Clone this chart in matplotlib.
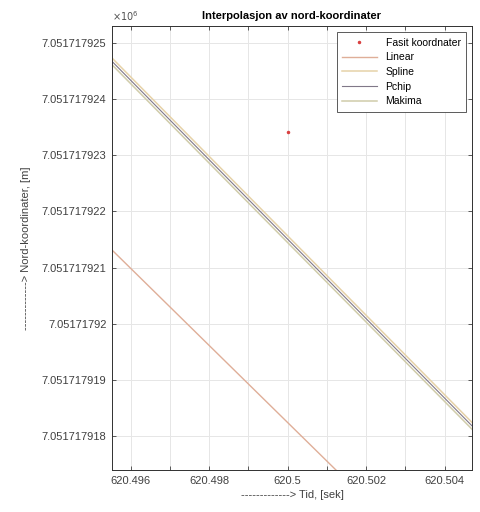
import matplotlib.pyplot as plt
from matplotlib.ticker import MultipleLocator, FuncFormatter

plt.rcParams['font.family'] = ['Liberation Sans', 'DejaVu Sans']

# Data (north coordinate in metres)
base = 7051717.9
t_line = [620.495, 620.505]
linear = [base + 0.02167, base + 0.01481]
spline = [base + 0.02510, base + 0.01803]
pchip = [base + 0.02504, base + 0.01797]
makima = [base + 0.02498, base + 0.01791]
fasit_t = [620.5]
fasit_n = [base + 0.023416]

fig = plt.figure(figsize=(4.8, 5.12), dpi=100)
ax = fig.add_axes([0.2333, 0.082, 0.75, 0.867])

ax.plot(fasit_t, fasit_n, '.', color='#d94040', markersize=3, label='Fasit koordnater')
ax.plot(t_line, linear, color='#dfae98', lw=1.0, label='Linear')
ax.plot(t_line, spline, color='#e6d2a8', lw=1.1, label='Spline')
ax.plot(t_line, pchip, color='#807888', lw=0.8, label='Pchip')
ax.plot(t_line, makima, color='#d0ccaa', lw=1.1, label='Makima')

ax.set_xlim(620.49552, 620.50470)
ax.set_ylim(base + 0.017395, base + 0.025300)

ax.xaxis.set_major_locator(MultipleLocator(0.001))
ax.yaxis.set_major_locator(MultipleLocator(0.001))


def xfmt(v, pos):
    # label every other tick, as in the reference
    if round(v * 1000) % 2:
        return ''
    return '%.7g' % v


ax.xaxis.set_major_formatter(FuncFormatter(xfmt))
ax.yaxis.set_major_formatter(FuncFormatter(lambda v, pos: '%.10g' % (v / 1e6)))

ax.tick_params(direction='in', length=3, labelsize=8, colors='#404040',
               top=True, right=True, width=0.6, pad=4)
for s in ax.spines.values():
    s.set_color('#303030')
    s.set_linewidth(0.7)
ax.grid(True, color='#e6e6e6', lw=0.7)
ax.set_axisbelow(True)

ax.text(0.0, 1.008, r'$\times10^{6}$', transform=ax.transAxes, fontsize=7,
        color='#505050', ha='left', va='bottom')
ax.set_title('Interpolasjon av nord-koordinater', fontsize=8, fontweight='bold', pad=5)
ax.set_xlabel('-------------> Tid, [sek]', fontsize=8, color='#404040', labelpad=3)
ax.set_ylabel('-------------> Nord-koordinater, [m]', fontsize=8, color='#404040', labelpad=8)

leg = ax.legend(loc='upper right', fontsize=7.5, handlelength=3.4, borderaxespad=0.6,
                fancybox=False, framealpha=1, edgecolor='#404040', labelspacing=0.45,
                borderpad=0.5)
leg.get_frame().set_linewidth(0.6)

fig.savefig('out.png', dpi=100)
